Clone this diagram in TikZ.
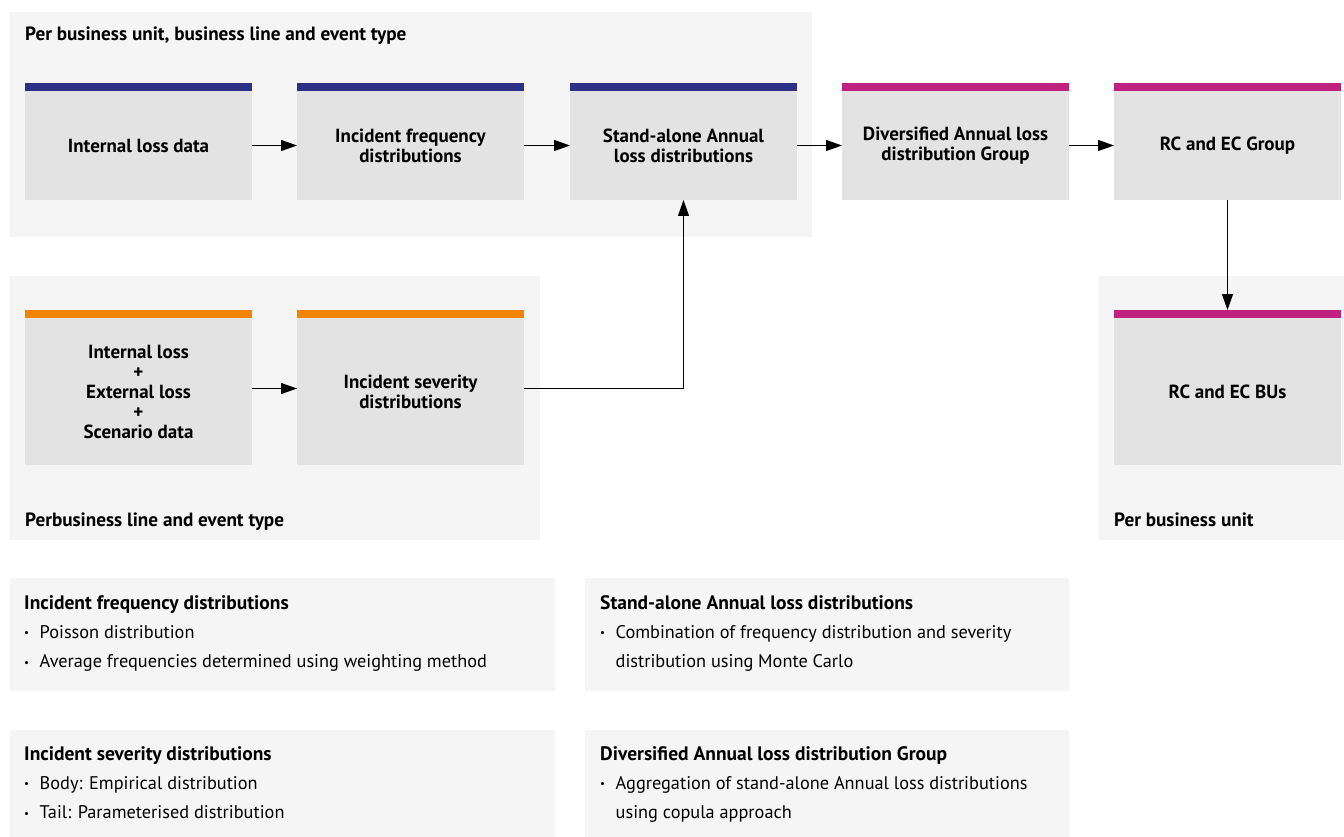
\documentclass[tikz,border=0pt]{standalone}
\usepackage{fontspec}
\setmainfont{PT Sans}
\usetikzlibrary{arrows.meta,positioning,calc}
\definecolor{panelgray}{RGB}{245,245,245}
\definecolor{boxgray}{RGB}{227,227,227}
\definecolor{barblue}{RGB}{46,48,135}
\definecolor{barmagenta}{RGB}{192,33,127}
\definecolor{barorange}{RGB}{240,131,0}
\newcommand{\bitem}[1]{\makebox[15.5pt][l]{\fontsize{11}{11}\selectfont\raisebox{1.5pt}{•}}#1}
\newcommand{\notetitle}[1]{{\fontsize{19.5}{29.3}\selectfont\bfseries #1}}

\begin{document}
\begin{tikzpicture}[
  x=1pt,y=-1pt,
  font=\fontsize{19}{20}\selectfont\bfseries,
  panel/.style={fill=panelgray,inner sep=0pt,outer sep=0pt,anchor=north west},
  stage/.style={fill=boxgray,inner sep=0pt,outer sep=0pt,minimum width=227pt,minimum height=109pt,align=center,anchor=north west},
  grouplabel/.style={anchor=base west,inner sep=0pt,font=\fontsize{19.2}{20}\selectfont\bfseries},
  notes/.style={anchor=north west,inner sep=0pt,align=left,font=\fontsize{18.3}{29.3}\selectfont},
  arr/.style={-{Triangle[length=16pt,width=11pt]},line width=1.2pt},
]
\useasboundingbox (0,0) rectangle (1344,837);
\fill[white] (0,0) rectangle (1344,837);

% Grouping panels
\node[panel,minimum width=802pt,minimum height=225pt] (unitpanel) at (10,12) {};
\node[panel,minimum width=530pt,minimum height=264pt] (linepanel) at (10,276) {};
\node[panel,minimum width=245pt,minimum height=264pt] (bupanel) at (1099,276) {};

% Top row
\node[stage] (ild) at (25,91) {Internal loss data};
\node[stage] (ifd) at (297,91) {Incident frequency\\distributions};
\node[stage] (sal) at (570,91) {Stand-alone Annual\\loss distributions};
\node[stage] (dal) at (842,91) {Diversified Annual loss\\distribution Group};
\node[stage] (rcg) at (1114,91) {RC and EC Group};

% Bottom row
\node[stage,minimum height=147pt] (inp) at (25,318) {Internal loss\\+\\External loss\\+\\Scenario data};
\node[stage,minimum height=147pt] (isd) at (297,318) {Incident severity\\distributions};
\node[stage,minimum height=147pt] (rcb) at (1114,318) {RC and EC BUs};

% Colour bars
\foreach \n/\c in {ild/barblue,ifd/barblue,sal/barblue,dal/barmagenta,rcg/barmagenta,inp/barorange,isd/barorange,rcb/barmagenta}
  \fill[\c] (\n.north west) rectangle ([yshift=8pt]\n.north east);

% Panel labels
\node[grouplabel] (unitlbl) at (25,41) {Per business unit, business line and event type};
\node[grouplabel] (linelbl) at (25,526) {Perbusiness line and event type};
\node[grouplabel] (bulbl) at (1114,526) {Per business unit};

% Connections
\draw[arr] (ild) -- (ifd);
\draw[arr] (ifd) -- (sal);
\draw[arr] (sal) -- (dal);
\draw[arr] (dal) -- (rcg);
\draw[arr] ([yshift=3pt]inp.east) -- ([yshift=3pt]isd.west);
\draw[arr] ([yshift=3pt]isd.east) -| (sal.south);
\draw[arr] (rcg.south) -- ([yshift=8pt]rcb.north);

% Notes
\node[panel,minimum width=545pt,minimum height=113pt] (freqpanel) at (10,578) {};
\node[panel,minimum width=484pt,minimum height=113pt] (salpanel) at (585,578) {};
\node[panel,minimum width=545pt,minimum height=107pt] (sevpanel) at (10,730) {};
\node[panel,minimum width=484pt,minimum height=107pt] (dalpanel) at (585,730) {};

\node[notes] (freqnote) at (24,595) {\notetitle{Incident frequency distributions}\\
  \bitem{Poisson distribution}\\
  \bitem{Average frequencies determined using weighting method}};
\node[notes] (salnote) at (600,595) {\notetitle{Stand-alone Annual loss distributions}\\
  \bitem{Combination of frequency distribution and severity}\\
  \hspace*{15.5pt}distribution using Monte Carlo};
\node[notes] (sevnote) at (24,746) {\notetitle{Incident severity distributions}\\
  \bitem{Body: Empirical distribution}\\
  \bitem{Tail: Parameterised distribution}};
\node[notes] (dalnote) at (600,746) {\notetitle{Diversified Annual loss distribution Group}\\
  \bitem{Aggregation of stand-alone Annual loss distributions}\\
  \hspace*{15.5pt}using copula approach};

\end{tikzpicture}
\end{document}
